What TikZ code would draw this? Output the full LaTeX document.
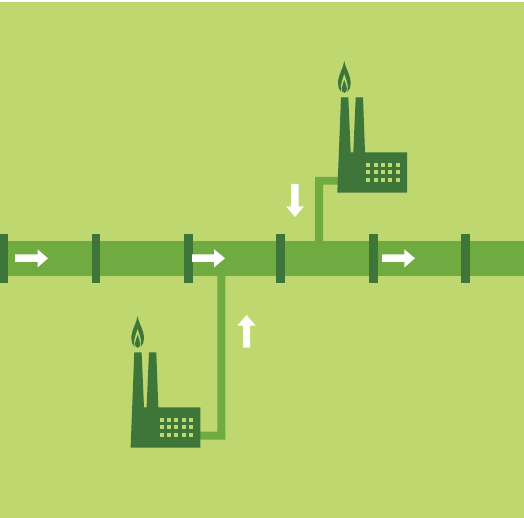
\documentclass[tikz,border=0pt]{standalone}
\definecolor{bgc}{HTML}{BED76F}
\definecolor{pipec}{HTML}{6FAB41}
\definecolor{darkc}{HTML}{3E7639}
\tikzset{
  pipefill/.style={fill=pipec,draw=none},
  darkfill/.style={fill=darkc,draw=none},
  arrowfill/.style={fill=white,draw=none},
  holefill/.style={fill=bgc,draw=none},
  factory/.pic={
    \fill[darkfill] (337.3,192.7) -- (341,97.3) -- (348.3,97.3) -- (350.7,152.3) -- (353.3,152.3)
      -- (355.7,97.3) -- (363,97.3) -- (365,152.3) -- (407,152.3) -- (407,192.7) -- cycle;
    % outer flame with its crescent-shaped opening
    \fill[darkfill] (344.3,61) .. controls (345.2,68) and (350.7,75) .. (350.7,83.5)
      .. controls (350.7,87) and (349.5,90) .. (347.3,92)
      .. controls (348.3,88.5) and (348,85) .. (347,82)
      .. controls (346.3,79) and (345,76.5) .. (344.3,73.5)
      .. controls (343.6,76.5) and (342.3,79) .. (341.6,82)
      .. controls (340.6,85) and (340.3,88.5) .. (341.3,92)
      .. controls (339.1,90) and (338,87) .. (338,83.5)
      .. controls (338,75) and (343.4,68) .. (344.3,61) -- cycle;
    % inner drop
    \fill[darkfill] (344.3,80) .. controls (344.8,83) and (347,85.5) .. (347,88.6)
      .. controls (347,91) and (345.6,92.8) .. (344.3,92.8)
      .. controls (343,92.8) and (341.6,91) .. (341.6,88.6)
      .. controls (341.6,85.5) and (343.8,83) .. (344.3,80) -- cycle;
    \foreach \wx in {368.3,375.6,382.9,390.2,397.6}
      \foreach \wy in {165,172.3,179.7}
        \fill[holefill] (\wx-2,\wy-2) rectangle (\wx+2,\wy+2);
  }
}
\begin{document}
\begin{tikzpicture}[x=1pt,y=-1pt]
\useasboundingbox (0,0) rectangle (524,518);
\fill[white] (0,0) rectangle (524,518);
\fill[bgc] (0,2) rectangle (524,518);
% connectors
\fill[pipefill] (315,241) -- (315,177) -- (340,177) -- (340,184.7) -- (323,184.7) -- (323,241) -- cycle;
\fill[pipefill] (217.3,276) -- (225.3,276) -- (225.3,439.7) -- (198,439.7) -- (198,431.7) -- (217.3,431.7) -- cycle;
% pipe
\fill[pipefill] (0,241) rectangle (524,276);
% flanges
\foreach \xa/\xb in {0/7.5,91.7/100.3,184/193,276.3/285.3,369/378,461.3/470}
  \fill[darkfill] (\xa,234) rectangle (\xb,283);
% factories
\pic at (0,0) {factory};
\begin{scope}[shift={(-206.7,255)}]
\pic at (0,0) {factory};
\end{scope}
% arrows
\foreach \s/\b/\t in {15/37.5/48,192/214/225,382/404.3/415}
  \fill[arrowfill] (\s,254.5) -- (\b,254.5) -- (\b,249.3) -- (\t,258.3) -- (\b,267.5) -- (\b,262) -- (\s,262) -- cycle;
\fill[arrowfill] (291.2,184) -- (298.5,184) -- (298.5,206.3) -- (304,206.3) -- (295,217) -- (286,206.3) -- (291.2,206.3) -- cycle;
\fill[arrowfill] (243,347.7) -- (250.2,347.7) -- (250.2,325.7) -- (255.7,325.7) -- (246.6,315) -- (237.3,325.7) -- (243,325.7) -- cycle;
\end{tikzpicture}
\end{document}
